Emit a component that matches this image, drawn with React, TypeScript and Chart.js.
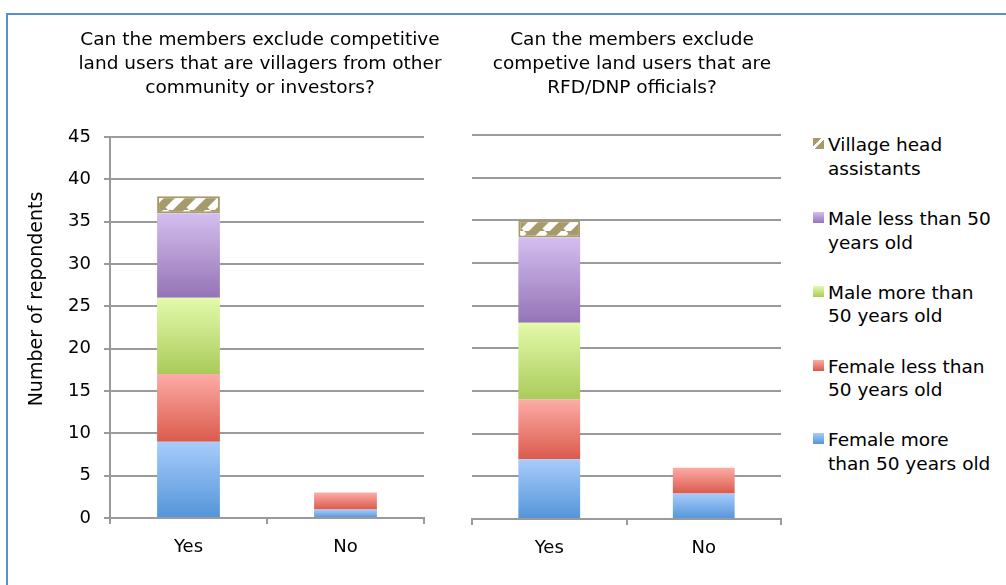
import React, { useEffect, useRef } from "react";
import { Chart, registerables } from "chart.js";

Chart.register(...registerables);

// ---------- data ----------
const categories = ["Yes", "No"];

const panel1Title = [
  "Can the members exclude competitive",
  "land users that are villagers from other",
  "community or investors?",
];
const panel2Title = [
  "Can the members exclude",
  "competive land users that are",
  "RFD/DNP officials?",
];

const seriesNames = [
  "Female more than 50 years old",
  "Female less than 50 years old",
  "Male more than 50 years old",
  "Male less than 50 years old",
  "Village head assistants",
];

// Panel 1: villagers from other community or investors
const p1FemaleOver50 = [9, 1];
const p1FemaleUnder50 = [8, 2];
const p1MaleOver50 = [9, 0];
const p1MaleUnder50 = [10, 0];
const p1HeadAssistants = [2, 0];

// Panel 2: RFD/DNP officials
const p2FemaleOver50 = [7, 3];
const p2FemaleUnder50 = [7, 3];
const p2MaleOver50 = [9, 0];
const p2MaleUnder50 = [10, 0];
const p2HeadAssistants = [2, 0];

const yMin = 0;
const yMax = 45;
const yStep = 5;

const yAxisTitle = "Number of repondents";

const legendLines = [
  ["Village head", "assistants"],
  ["Male less than 50", "years old"],
  ["Male more than", "50 years old"],
  ["Female less than", "50 years old"],
  ["Female more", "than 50 years old"],
];

// ---------- styles ----------
const FONT = "'DejaVu Sans', sans-serif";
const GRID = "#9a9a9a";
const HATCH = "#a6996a";
const gradients: [string, string][] = [
  ["#a8ccfb", "#5395d9"], // female > 50
  ["#fcaca6", "#db5a4c"], // female < 50
  ["#e3faab", "#aacb5b"], // male > 50
  ["#d4beef", "#9574b6"], // male < 50
];

function makeHatch(): CanvasPattern | string {
  const size = 21;
  const c = document.createElement("canvas");
  c.width = size;
  c.height = size;
  const g = c.getContext("2d");
  if (!g) return HATCH;
  g.fillStyle = HATCH;
  g.fillRect(0, 0, size, size);
  g.strokeStyle = "#ffffff";
  g.lineWidth = 7;
  for (const k of [-size, 0, size]) {
    g.beginPath();
    g.moveTo(k, size);
    g.lineTo(k + size, 0);
    g.stroke();
  }
  const p = g.createPattern(c, "repeat");
  return p || HATCH;
}

function gradientFill(stops: [string, string]) {
  return (ctx: any) => {
    const chart = ctx.chart;
    const { chartArea, scales } = chart;
    if (!chartArea || ctx.type !== "data" || !scales.y) return stops[0];
    const idx = ctx.dataIndex;
    const dsIdx = ctx.datasetIndex;
    let start = 0;
    for (let i = 0; i < dsIdx; i++) start += Number(chart.data.datasets[i].data[idx]) || 0;
    const end = start + (Number(ctx.raw) || 0);
    const yTop = scales.y.getPixelForValue(end);
    const yBot = scales.y.getPixelForValue(start);
    if (!(yBot > yTop)) return stops[0];
    const g = chart.ctx.createLinearGradient(0, yTop, 0, yBot);
    g.addColorStop(0, stops[0]);
    g.addColorStop(1, stops[1]);
    return g;
  };
}

function buildDatasets(series: number[][], hatch: CanvasPattern | string) {
  return series.map((data, i) => {
    if (i === 4) {
      return {
        label: seriesNames[i],
        data,
        backgroundColor: hatch,
        borderColor: HATCH,
        borderWidth: 2,
        borderSkipped: false,
        barPercentage: 1,
        categoryPercentage: 0.4,
      };
    }
    return {
      label: seriesNames[i],
      data,
      backgroundColor: gradientFill(gradients[i]),
      borderWidth: 0,
      barPercentage: 1,
      categoryPercentage: 0.4,
    };
  });
}

function buildOptions(showY: boolean, padTop: number, padRight: number, yWidth: number, xHeight: number) {
  return {
    animation: false as const,
    responsive: false,
    maintainAspectRatio: false,
    layout: { padding: { top: padTop, right: padRight, bottom: 0, left: 0 } },
    plugins: {
      legend: { display: false },
      title: { display: false },
      tooltip: { enabled: false },
    },
    scales: {
      x: {
        stacked: true,
        grid: {
          offset: true,
          drawOnChartArea: false,
          drawTicks: true,
          tickLength: 6,
          color: GRID,
          lineWidth: 2,
        },
        border: { display: true, color: GRID, width: 2 },
        ticks: { color: "#000", font: { family: FONT, size: 18 }, padding: 13 },
        afterFit: (s: any) => {
          s.height = xHeight;
        },
      },
      y: {
        stacked: true,
        min: yMin,
        max: yMax,
        grid: {
          color: GRID,
          lineWidth: 2,
          drawTicks: showY,
          tickLength: 6,
        },
        border: { display: showY, color: GRID, width: 2 },
        ticks: {
          display: showY,
          stepSize: yStep,
          color: "#000",
          font: { family: FONT, size: 18 },
          padding: 13,
        },
        afterFit: (s: any) => {
          s.width = yWidth;
        },
      },
    },
  };
}

const swatchBg = (i: number) => {
  // legend order top->bottom: head assistants, male<50, male>50, female<50, female>50
  const map = [4, 3, 2, 1, 0];
  const s = map[i];
  if (s === 4) {
    return `linear-gradient(135deg, ${HATCH} 0%, ${HATCH} 38%, #fff 38%, #fff 58%, ${HATCH} 58%, ${HATCH} 100%)`;
  }
  return `linear-gradient(to bottom, ${gradients[s][0]}, ${gradients[s][1]})`;
};

export default function App() {
  const leftRef = useRef<HTMLCanvasElement>(null);
  const rightRef = useRef<HTMLCanvasElement>(null);

  useEffect(() => {
    const hatch = makeHatch();
    const charts: Chart[] = [];
    if (leftRef.current) {
      charts.push(
        new Chart(leftRef.current, {
          type: "bar",
          data: {
            labels: categories,
            datasets: buildDatasets(
              [p1FemaleOver50, p1FemaleUnder50, p1MaleOver50, p1MaleUnder50, p1HeadAssistants],
              hatch
            ) as any,
          },
          options: buildOptions(true, 137, 16, 110, 67) as any,
        })
      );
    }
    if (rightRef.current) {
      charts.push(
        new Chart(rightRef.current, {
          type: "bar",
          data: {
            labels: categories,
            datasets: buildDatasets(
              [p2FemaleOver50, p2FemaleUnder50, p2MaleOver50, p2MaleUnder50, p2HeadAssistants],
              hatch
            ) as any,
          },
          options: buildOptions(false, 135, 19, 32, 66) as any,
        })
      );
    }
    return () => {
      charts.forEach((c) => c.destroy());
    };
  }, []);

  const titleStyle = (cx: number): React.CSSProperties => ({
    position: "absolute",
    left: cx - 230,
    width: 460,
    top: 27,
    textAlign: "center",
    fontFamily: FONT,
    fontSize: 18.5,
    lineHeight: "24px",
    color: "#000",
    whiteSpace: "nowrap",
  });

  return (
    <div
      style={{
        position: "absolute",
        left: 0,
        top: 0,
        width: 1006,
        height: 585,
        overflow: "hidden",
        background: "#fff",
      }}
    >
      <div
        style={{
          position: "absolute",
          left: 6,
          top: 13,
          width: 1200,
          height: 800,
          borderTop: "2px solid #5b8fc9",
          borderLeft: "2px solid #5b8fc9",
        }}
      />
      <canvas
        ref={leftRef}
        width={440}
        height={585}
        style={{ position: "absolute", left: 0, top: 0, width: 440, height: 585 }}
      />
      <canvas
        ref={rightRef}
        width={360}
        height={585}
        style={{ position: "absolute", left: 440, top: 0, width: 360, height: 585 }}
      />
      <div style={titleStyle(260)}>
        {panel1Title.map((l, i) => (
          <div key={i}>{l}</div>
        ))}
      </div>
      <div style={titleStyle(632)}>
        {panel2Title.map((l, i) => (
          <div key={i}>{l}</div>
        ))}
      </div>
      <div
        style={{
          position: "absolute",
          left: 34.5 - 150,
          top: 299 - 12,
          width: 300,
          height: 24,
          lineHeight: "24px",
          textAlign: "center",
          transform: "rotate(-90deg)",
          fontFamily: FONT,
          fontSize: 19,
          color: "#000",
          whiteSpace: "nowrap",
        }}
      >
        {yAxisTitle}
      </div>
      {legendLines.map((lines, i) => {
        const capTop = 138.3 + i * 73.75;
        return (
          <div key={i}>
            <div
              style={{
                position: "absolute",
                left: 813,
                top: capTop,
                width: 11,
                height: 11,
                background: swatchBg(i),
              }}
            />
            <div
              style={{
                position: "absolute",
                left: 828,
                top: capTop - 5,
                fontFamily: FONT,
                fontSize: 18.5,
                lineHeight: "23.5px",
                color: "#000",
                whiteSpace: "nowrap",
              }}
            >
              {lines.map((l, j) => (
                <div key={j}>{l}</div>
              ))}
            </div>
          </div>
        );
      })}
    </div>
  );
}
